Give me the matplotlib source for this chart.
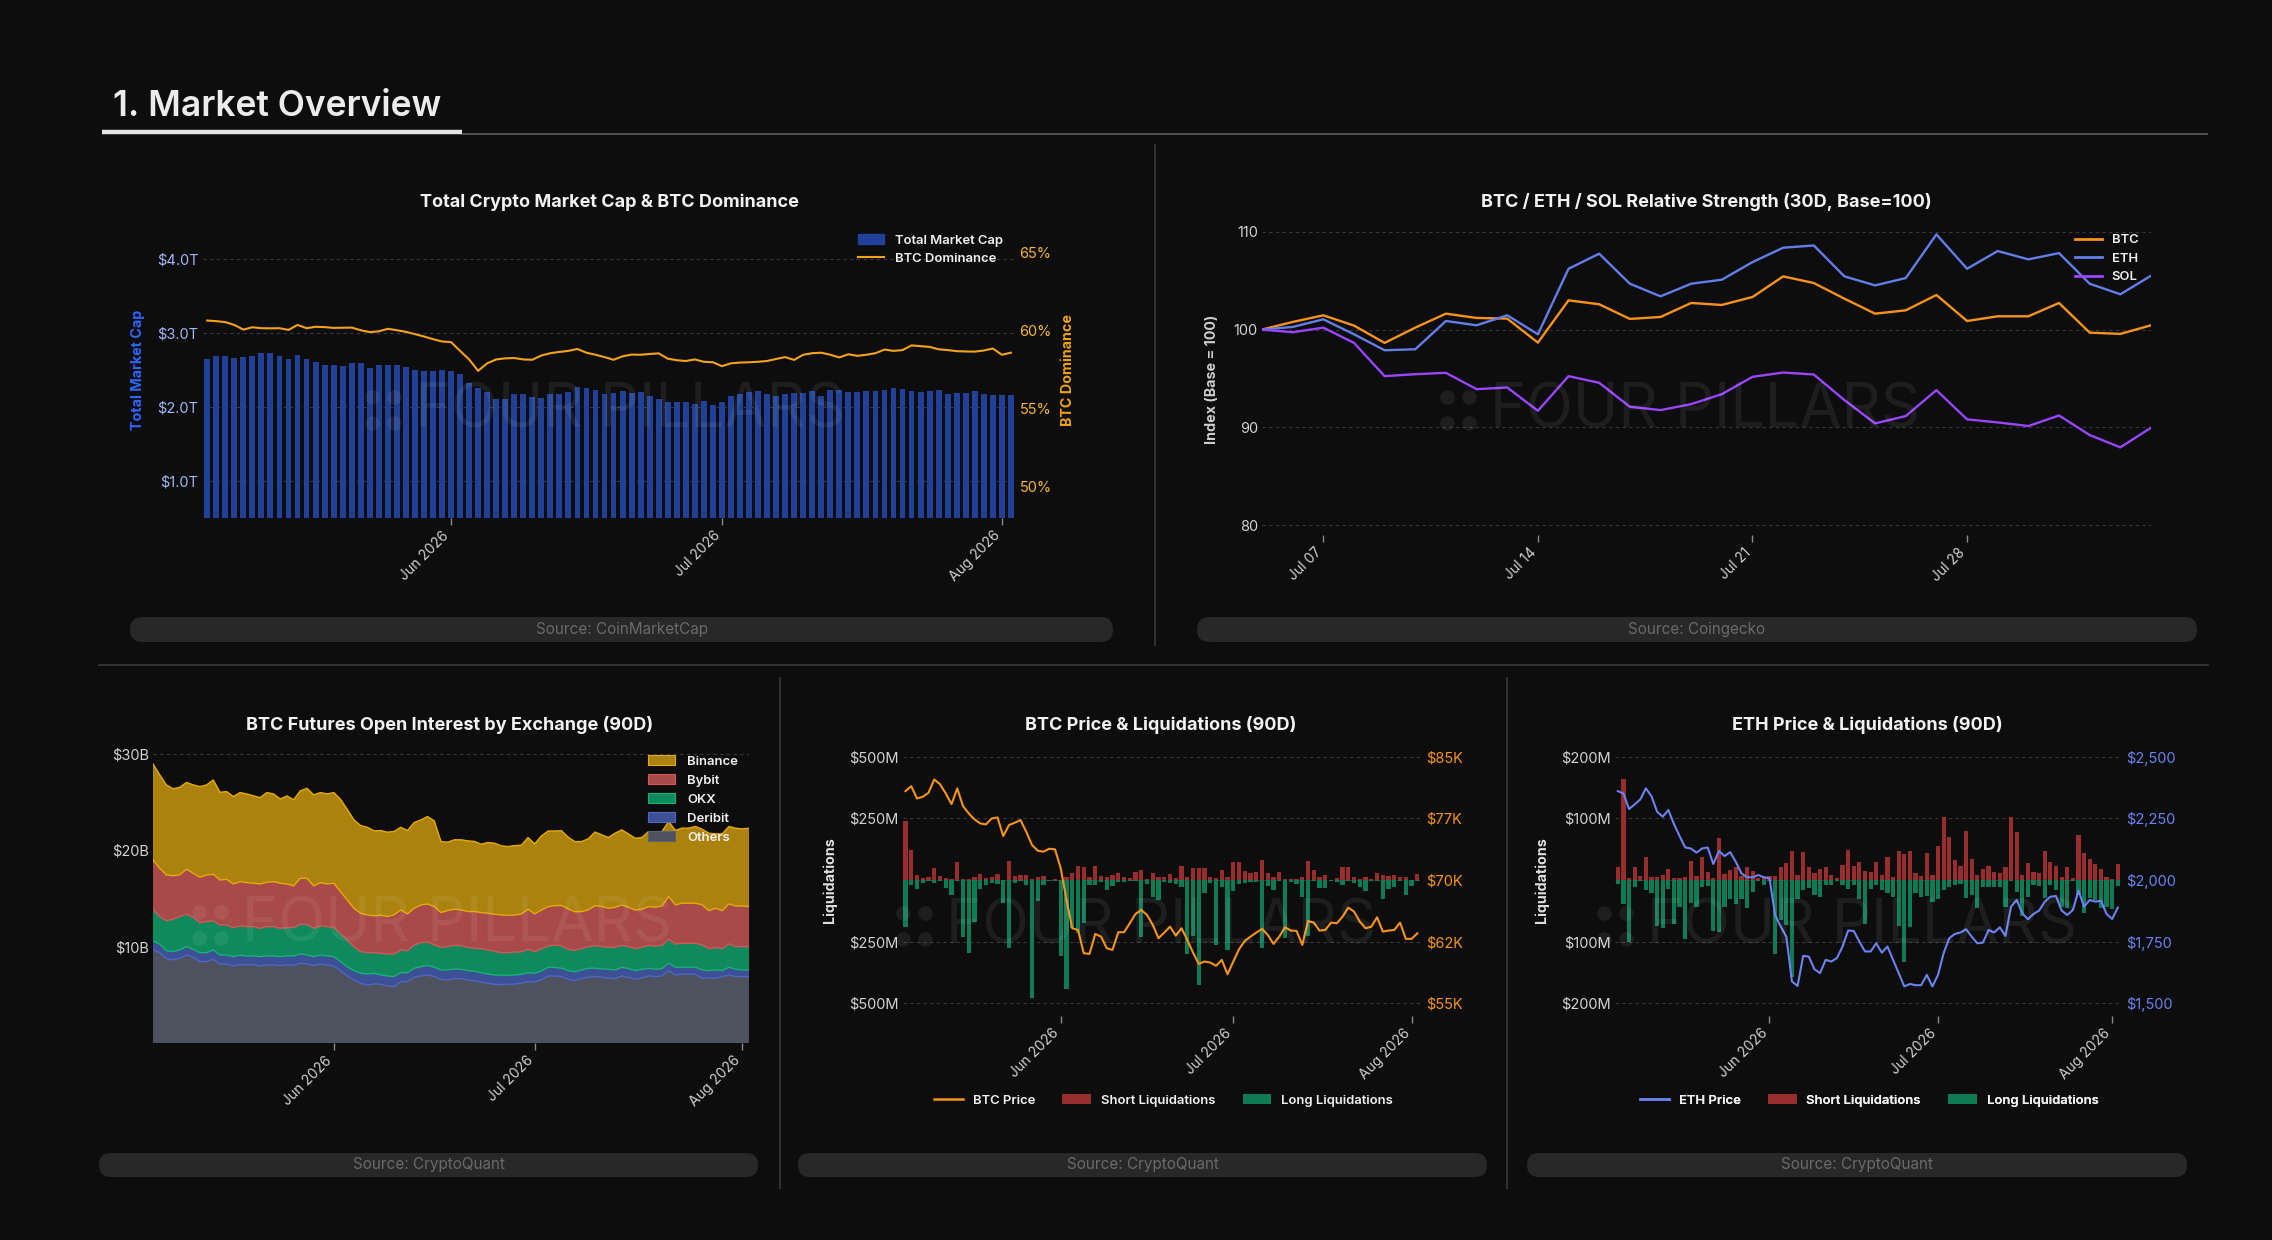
import numpy as np
import pandas as pd
import matplotlib
matplotlib.use("Agg")
import matplotlib.pyplot as plt
from matplotlib.patches import FancyBboxPatch, Patch
from matplotlib.lines import Line2D
from matplotlib.transforms import ScaledTranslation

plt.rcParams['font.family'] = ['Inter', 'DejaVu Sans']

W, H = 2272, 1240
BG = '#0d0d0d'

# ---------------- data ----------------
days_90 = pd.date_range('2026-05-05', periods=90, freq='D')
days_30 = pd.date_range('2026-07-05', periods=30, freq='D')

# total crypto market cap ($T) and BTC dominance (%)
mcap = [2.64, 2.68, 2.69, 2.66, 2.67, 2.68, 2.72, 2.72, 2.68, 2.65,
        2.70, 2.64, 2.60, 2.57, 2.57, 2.55, 2.59, 2.59, 2.52, 2.56,
        2.57, 2.57, 2.54, 2.50, 2.48, 2.48, 2.50, 2.49, 2.44, 2.32,
        2.25, 2.20, 2.11, 2.10, 2.18, 2.17, 2.13, 2.12, 2.18, 2.18,
        2.20, 2.27, 2.26, 2.23, 2.18, 2.19, 2.21, 2.19, 2.20, 2.15,
        2.10, 2.07, 2.07, 2.07, 2.04, 2.08, 2.03, 2.07, 2.14, 2.18,
        2.20, 2.21, 2.18, 2.14, 2.17, 2.19, 2.19, 2.21, 2.14, 2.23,
        2.23, 2.20, 2.20, 2.21, 2.22, 2.23, 2.26, 2.24, 2.21, 2.20,
        2.21, 2.23, 2.18, 2.19, 2.19, 2.21, 2.18, 2.16, 2.16, 2.16]
btc_dom = [60.64, 60.60, 60.54, 60.36, 60.06, 60.21, 60.15, 60.14, 60.15, 60.04,
           60.36, 60.15, 60.24, 60.22, 60.17, 60.18, 60.19, 60.02, 59.90, 59.95,
           60.11, 60.02, 59.92, 59.77, 59.62, 59.45, 59.30, 59.26, 58.70, 58.15,
           57.42, 57.90, 58.15, 58.22, 58.24, 58.15, 58.13, 58.40, 58.55, 58.63,
           58.70, 58.82, 58.58, 58.45, 58.30, 58.13, 58.35, 58.46, 58.45, 58.50,
           58.54, 58.20, 58.10, 58.05, 58.15, 58.00, 57.97, 57.72, 57.90, 57.95,
           57.97, 58.00, 58.05, 58.18, 58.30, 58.12, 58.45, 58.55, 58.58, 58.45,
           58.28, 58.48, 58.38, 58.45, 58.55, 58.78, 58.70, 58.75, 59.05, 59.00,
           58.95, 58.80, 58.75, 58.68, 58.66, 58.65, 58.72, 58.85, 58.45, 58.58]

# relative strength index (base 100)
rs_btc = [100.0, 100.78, 101.46, 100.41, 98.64, 100.2, 101.63, 101.19, 101.12, 98.67,
          102.99, 102.59, 101.09, 101.29, 102.72, 102.52, 103.33, 105.44, 104.76, 103.16,
          101.63, 101.97, 103.54, 100.88, 101.36, 101.36, 102.72, 99.69, 99.56, 100.44]
rs_eth = [100.0, 100.27, 101.05, 99.52, 97.89, 97.99, 100.88, 100.44, 101.46, 99.52,
          106.22, 107.76, 104.69, 103.4, 104.69, 105.1, 106.9, 108.37, 108.6, 105.44,
          104.52, 105.27, 109.73, 106.22, 108.03, 107.18, 107.82, 104.69, 103.61, 105.51]
rs_sol = [100.0, 99.73, 100.2, 98.64, 95.24, 95.44, 95.58, 93.91, 94.08, 91.7,
          95.24, 94.56, 92.11, 91.77, 92.38, 93.4, 95.17, 95.61, 95.41, 92.79,
          90.41, 91.16, 93.81, 90.82, 90.51, 90.14, 91.22, 89.22, 87.96, 89.97]

# BTC futures open interest by exchange ($B)
oi_others = [9.65, 9.38, 8.75, 8.62, 8.79, 9.13, 8.89, 8.44, 8.44, 8.68,
             8.2, 8.2, 7.99, 8.13, 8.1, 8.13, 7.99, 8.1, 8.1, 8.03,
             8.1, 8.06, 8.27, 8.2, 8.03, 8.2, 8.1, 7.99, 7.51, 6.95,
             6.54, 6.19, 6.02, 6.12, 6.09, 5.92, 5.85, 6.37, 6.37, 6.82,
             6.95, 7.06, 6.89, 6.61, 6.54, 6.68, 6.68, 6.54, 6.47, 6.33,
             6.19, 6.09, 6.06, 6.09, 6.12, 6.19, 6.37, 6.33, 6.54, 6.95,
             6.95, 6.89, 6.61, 6.47, 6.68, 6.82, 6.89, 6.82, 6.75, 6.68,
             6.95, 6.82, 6.61, 6.75, 6.95, 6.89, 6.95, 7.51, 7.06, 7.13,
             7.13, 7.13, 6.71, 6.78, 6.71, 6.89, 7.06, 6.89, 6.89, 6.89]
oi_deribit = [0.93, 0.87, 0.83, 0.87, 0.87, 0.87, 0.83, 0.93, 0.93, 0.97,
              0.93, 0.93, 0.97, 0.97, 0.93, 0.9, 0.97, 0.93, 0.93, 0.93,
              0.93, 0.97, 0.97, 0.93, 0.93, 0.93, 0.93, 0.97, 0.93, 0.97,
              0.97, 1.04, 1.14, 1.11, 0.97, 1.04, 1.04, 0.93, 0.93, 0.93,
              0.97, 1.0, 0.97, 0.97, 1.04, 1.0, 0.97, 0.97, 0.97, 0.97,
              0.97, 0.97, 0.97, 0.93, 0.93, 0.93, 0.93, 0.9, 0.93, 0.9,
              0.9, 0.87, 0.9, 0.93, 0.9, 0.93, 0.87, 0.87, 0.9, 0.9,
              0.9, 0.9, 0.9, 0.9, 0.8, 0.76, 0.76, 0.76, 0.8, 0.73,
              0.73, 0.73, 0.87, 0.73, 0.87, 0.62, 0.8, 0.76, 0.69, 0.69]
oi_okx = [3.29, 2.87, 3.11, 3.36, 3.46, 3.36, 3.32, 3.11, 3.22, 3.04,
          3.11, 3.11, 3.01, 3.04, 3.04, 3.04, 2.94, 3.04, 3.04, 2.94,
          2.94, 2.94, 3.08, 3.18, 2.94, 3.01, 3.04, 3.04, 2.94, 2.77,
          2.49, 2.25, 2.21, 2.15, 2.25, 2.28, 2.35, 2.35, 2.28, 2.42,
          2.49, 2.42, 2.32, 2.35, 2.42, 2.46, 2.46, 2.42, 2.39, 2.49,
          2.49, 2.46, 2.35, 2.35, 2.39, 2.35, 2.42, 2.25, 2.32, 2.21,
          2.32, 2.32, 2.21, 2.21, 2.21, 2.25, 2.32, 2.32, 2.28, 2.35,
          2.28, 2.28, 2.28, 2.28, 2.39, 2.42, 2.42, 2.49, 2.42, 2.49,
          2.49, 2.49, 2.6, 2.28, 2.32, 2.28, 2.42, 2.35, 2.42, 2.42]
oi_bybit = [5.12, 5.02, 4.74, 4.5, 4.33, 4.67, 4.57, 4.71, 4.84, 4.81,
            4.67, 4.74, 4.53, 4.6, 4.57, 4.5, 4.6, 4.6, 4.67, 4.67,
            4.53, 4.33, 4.77, 4.77, 4.39, 4.5, 4.43, 4.57, 4.33, 4.15,
            3.98, 3.98, 3.91, 3.81, 3.94, 3.88, 4.05, 4.15, 3.81, 3.81,
            3.91, 3.94, 3.98, 3.6, 3.74, 3.74, 3.7, 3.7, 3.81, 3.74,
            3.81, 3.84, 3.91, 3.88, 3.84, 3.91, 4.15, 3.91, 4.01, 4.08,
            4.08, 4.19, 4.19, 4.01, 3.84, 3.81, 4.15, 4.15, 4.05, 4.15,
            4.19, 4.08, 4.01, 3.94, 4.01, 4.01, 4.08, 4.43, 4.05, 4.15,
            4.15, 4.15, 4.15, 3.94, 4.08, 3.94, 4.15, 4.22, 4.22, 4.15]
oi_binance = [9.96, 9.69, 9.34, 9.03, 9.07, 9.0, 9.17, 9.41, 9.34, 9.79,
              9.1, 9.1, 9.07, 9.24, 9.2, 9.07, 8.96, 9.31, 9.1, 8.75,
              9.13, 8.93, 9.07, 9.34, 9.45, 9.34, 9.34, 9.41, 9.58, 9.41,
              9.17, 9.1, 9.1, 8.82, 8.79, 8.75, 8.65, 8.58, 8.65, 8.89,
              8.82, 9.07, 8.89, 7.37, 7.09, 7.2, 7.27, 7.34, 7.27, 7.09,
              7.34, 7.37, 7.16, 7.13, 7.2, 7.13, 7.44, 7.27, 7.68, 7.85,
              7.75, 7.75, 7.44, 7.27, 7.27, 7.37, 7.65, 7.44, 7.34, 7.68,
              7.79, 7.61, 7.44, 7.44, 7.79, 7.61, 7.72, 7.79, 7.72, 7.79,
              7.79, 7.96, 7.85, 8.03, 7.72, 7.96, 8.03, 8.06, 7.99, 8.13]

# BTC liquidations ($M) and price ($K)
btc_short = [239, 122, 20, 7, 11, 50, 15, 7, 3, 73,
             3, 3, 11, 24, 7, 14, 23, 0, 77, 16,
             20, 20, 3, 11, 16, 0, 3, 0, 14, 27,
             57, 51, 11, 57, 16, 11, 20, 30, 11, 7,
             34, 41, 3, 30, 14, 11, 23, 7, 57, 11,
             47, 47, 47, 11, 7, 41, 11, 74, 74, 36,
             30, 34, 81, 30, 11, 34, 3, 3, 3, 11,
             77, 41, 11, 20, 0, 7, 51, 51, 11, 3,
             11, 3, 27, 20, 16, 20, 14, 11, 0, 23]
btc_long = [189, 20, 38, 11, 3, 11, 3, 34, 61, 3,
            230, 297, 169, 38, 20, 11, 18, 92, 277, 11,
            4, 20, 480, 84, 20, 3, 3, 308, 443, 196,
            216, 173, 20, 20, 7, 41, 24, 7, 7, 3,
            3, 232, 16, 68, 81, 7, 11, 16, 27, 300,
            227, 426, 51, 11, 263, 27, 286, 43, 16, 11,
            7, 7, 277, 24, 41, 3, 236, 7, 16, 68,
            227, 3, 34, 34, 3, 7, 20, 3, 14, 30,
            43, 3, 3, 78, 38, 27, 3, 61, 24, 3]
btc_price = [80.82, 81.43, 79.93, 80.13, 80.62, 82.24, 81.67, 80.54, 79.24, 81.15,
             79.00, 78.11, 77.38, 76.89, 76.77, 77.50, 77.62, 75.35, 76.69, 76.97,
             77.30, 75.88, 74.26, 73.57, 73.45, 73.81, 73.73, 71.42, 67.57, 64.12,
             63.92, 61.08, 61.00, 63.43, 63.11, 61.69, 61.49, 63.64, 63.64, 64.73,
             65.87, 66.35, 65.74, 64.53, 62.91, 63.60, 64.32, 63.23, 64.12, 62.70,
             61.16, 59.79, 60.07, 59.95, 59.55, 60.27, 58.53, 60.07, 61.57, 62.58,
             63.11, 63.60, 64.04, 63.31, 62.22, 63.11, 64.24, 63.84, 63.80, 62.10,
             65.01, 64.81, 63.84, 63.92, 64.81, 64.73, 65.54, 66.64, 66.15, 64.93,
             64.12, 64.32, 65.46, 63.72, 63.84, 63.92, 64.81, 62.83, 62.83, 63.51]

# ETH liquidations ($M) and price ($)
eth_short = [21.6, 163.8, 2.7, 20.5, 7.0, 37.8, 5.4, 5.4, 8.1, 18.4,
             2.7, 2.7, 5.4, 31.4, 7.0, 37.8, 13.0, 2.7, 67.6, 9.2,
             16.2, 20.5, 7.0, 20.5, 15.1, 2.7, 2.7, 7.0, 7.0, 20.5,
             27.0, 47.0, 8.1, 44.9, 20.5, 11.9, 17.3, 20.5, 8.1, 3.8,
             24.3, 48.6, 22.7, 28.6, 15.1, 13.5, 28.6, 8.1, 36.8, 5.4,
             47.6, 42.2, 47.0, 11.9, 6.5, 43.2, 8.1, 55.1, 101.6, 69.2,
             32.4, 22.7, 80.0, 33.5, 8.1, 17.8, 22.7, 13.5, 11.9, 20.5,
             102.7, 78.4, 8.1, 28.1, 13.5, 10.8, 47.6, 29.7, 23.2, 5.4,
             20.5, 2.7, 73.0, 44.3, 34.0, 25.4, 17.3, 4.3, 1.6, 25.4]
eth_long = [6.5, 39.5, 100.0, 11.9, 1.0, 16.2, 21.6, 74.0, 78.4, 15.1,
            71.4, 43.2, 96.2, 37.8, 43.2, 11.9, 9.7, 82.2, 83.8, 43.2,
            31.4, 39.5, 31.4, 45.9, 18.9, 1.0, 8.1, 1.0, 120.5, 64.9,
            73.0, 158.0, 31.4, 16.2, 13.5, 24.3, 28.1, 8.1, 8.1, 1.0,
            8.1, 15.1, 8.1, 31.4, 71.9, 15.1, 8.1, 16.2, 20.5, 27.0,
            74.0, 133.5, 75.7, 20.5, 28.1, 25.9, 35.1, 31.4, 16.2, 10.8,
            8.1, 6.5, 29.7, 24.3, 45.9, 10.8, 10.8, 10.8, 11.9, 44.3,
            1.0, 18.9, 58.4, 27.0, 8.1, 9.7, 29.7, 8.1, 16.2, 43.2,
            45.9, 1.0, 24.3, 53.0, 29.7, 32.4, 45.9, 44.3, 47.6, 9.7]
eth_price = [2361, 2351, 2288, 2307, 2327, 2372, 2340, 2277, 2257, 2284,
             2227, 2178, 2132, 2128, 2111, 2128, 2132, 2065, 2118, 2097,
             2113, 2074, 2027, 2011, 2011, 2020, 2011, 2007, 1858, 1811,
             1770, 1588, 1570, 1692, 1689, 1638, 1622, 1676, 1669, 1683,
             1730, 1795, 1793, 1750, 1710, 1710, 1743, 1705, 1730, 1676,
             1622, 1568, 1578, 1573, 1573, 1615, 1568, 1615, 1703, 1764,
             1781, 1787, 1800, 1770, 1743, 1746, 1797, 1787, 1808, 1773,
             1892, 1919, 1865, 1841, 1862, 1876, 1912, 1932, 1935, 1876,
             1858, 1878, 1957, 1892, 1919, 1912, 1916, 1862, 1842, 1888]

month_ticks = pd.to_datetime(['2026-06-01', '2026-07-01', '2026-08-01'])
month_labels = ['Jun 2026', 'Jul 2026', 'Aug 2026']
week_ticks = pd.to_datetime(['2026-07-07', '2026-07-14', '2026-07-21', '2026-07-28'])
week_labels = ['Jul 07', 'Jul 14', 'Jul 21', 'Jul 28']

# ---------------- helpers ----------------
fig = plt.figure(figsize=(W / 100, H / 100), dpi=100, facecolor=BG)
half = pd.Timedelta(hours=12)
shift = ScaledTranslation(-4 / 100, 0, fig.dpi_scale_trans)


def box(x0, x1, ytop, ybot):
    return [x0 / W, 1 - ybot / H, (x1 - x0) / W, (ybot - ytop) / H]


def style(ax, tick_color='#d2d2d2'):
    ax.set_facecolor('none')
    for s in ax.spines.values():
        s.set_visible(False)
    ax.tick_params(axis='y', length=0, pad=3, labelsize=10.5, labelcolor=tick_color)
    ax.tick_params(axis='x', length=5, width=1, color='#8a8a8a', pad=6,
                   labelsize=10, labelcolor='#d0d0d0')
    ax.grid(axis='y', color='#383838', lw=0.8, ls=(0, (3, 3)))
    ax.set_axisbelow(True)


def xlabels(ax, ticks, labels):
    ax.set_xticks(ticks)
    ax.set_xticklabels(labels, rotation=45, ha='right', va='center', rotation_mode='anchor')
    for lab in ax.get_xticklabels():
        lab.set_transform(lab.get_transform() + shift)


# ---------------- panel 1: market cap & dominance ----------------
ax1 = fig.add_axes(box(202.7, 1015.4, 229, 518))
style(ax1, '#a3b5f5')
ax1.bar(days_90, mcap, width=0.65, color='#20409a', zorder=2)
ax1.set_ylim(0.5, 4.4)
ax1.set_yticks([1, 2, 3, 4])
ax1.set_yticklabels(['$1.0T', '$2.0T', '$3.0T', '$4.0T'])
ax1.set_xlim(days_90[0] - half, days_90[-1] + half)
xlabels(ax1, month_ticks, month_labels)
ax1b = ax1.twinx()
ax1b.set_facecolor('none')
for s in ax1b.spines.values():
    s.set_visible(False)
ax1b.plot(days_90, btc_dom, color='#f5a21b', lw=1.5)
ax1b.set_ylim(48, 66.5)
ax1b.set_yticks([50, 55, 60, 65])
ax1b.set_yticklabels(['50%', '55%', '60%', '65%'])
ax1b.tick_params(axis='y', length=0, pad=3, labelsize=10.5, labelcolor='#f7b731')

# ---------------- panel 2: relative strength ----------------
ax2 = fig.add_axes(box(1262, 2151, 222, 535))
style(ax2)
ax2.plot(days_30, rs_btc, color='#f7931a', lw=1.7)
ax2.plot(days_30, rs_eth, color='#627eea', lw=1.7)
ax2.plot(days_30, rs_sol, color='#9945ff', lw=1.7)
ax2.set_ylim(79, 111)
ax2.set_yticks([80, 90, 100, 110])
ax2.set_xlim(days_30[0], days_30[-1])
xlabels(ax2, week_ticks, week_labels)

# ---------------- panel 3: open interest ----------------
ex_fill = ['#4e525e', '#3d5096', '#108a5c', '#a84a4a', '#ab820e']
ex_line = ['#5d6270', '#4f67c4', '#19b07a', '#cf5a5a', '#e6aa0c']
ax3 = fig.add_axes(box(153, 749, 749, 1043))
style(ax3)
layers = [oi_others, oi_deribit, oi_okx, oi_bybit, oi_binance]
ax3.stackplot(days_90, *layers, colors=ex_fill, lw=0, zorder=2)
tops = np.cumsum(np.array(layers), axis=0)
for k in range(5):
    c = ex_line[min(k + 1, 4)]
    ax3.plot(days_90, tops[k], color=c, lw=1.0, zorder=3)
ax3.set_ylim(0, 30.5)
ax3.set_yticks([10, 20, 30])
ax3.set_yticklabels(['$10B', '$20B', '$30B'])
ax3.set_xlim(days_90[0], days_90[-1])
xlabels(ax3, month_ticks, month_labels)


# ---------------- panels 4/5: price & liquidations ----------------
def liq_panel(rect, short, long_, price, lim, ylab, pcol, plim, pticks, plabels):
    ax = fig.add_axes(rect)
    style(ax)
    ax.bar(days_90, short, width=0.75, color='#982d2d', zorder=2)
    ax.bar(days_90, -np.array(long_), width=0.75, color='#0f7b55', zorder=2)
    ax.set_ylim(-lim, lim)
    ax.set_yticks([-ylab * 2, -ylab, 0, ylab, ylab * 2])
    ax.set_yticklabels([f'${ylab * 2}M', f'${ylab}M', '', f'${ylab}M', f'${ylab * 2}M'])
    ax.set_xlim(days_90[0] - half, days_90[-1] + half)
    xlabels(ax, month_ticks, month_labels)
    axb = ax.twinx()
    axb.set_facecolor('none')
    for s in axb.spines.values():
        s.set_visible(False)
    axb.plot(days_90, price, color=pcol, lw=1.5)
    axb.set_ylim(*plim)
    axb.set_yticks(pticks)
    axb.set_yticklabels(plabels)
    axb.tick_params(axis='y', length=0, pad=4, labelsize=10.5, labelcolor=pcol)
    return ax


liq_panel(box(902.6, 1420.2, 744.5, 1015.5), btc_short, btc_long, btc_price, 550, 250,
          '#f7931a', (53.5, 86.5), [55, 62.5, 70, 77.5, 85],
          ['$55K', '$62K', '$70K', '$77K', '$85K'])
liq_panel(box(1615, 2120.6, 744.5, 1015.5), eth_short, eth_long, eth_price, 220, 100,
          '#6b82f0', (1450, 2550), [1500, 1750, 2000, 2250, 2500],
          ['$1,500', '$1,750', '$2,000', '$2,250', '$2,500'])

# ---------------- overlay: header, dividers, titles, pills, legends ----------------
ov = fig.add_axes([0, 0, 1, 1], zorder=20)
ov.set_xlim(0, W)
ov.set_ylim(H, 0)
ov.axis('off')
ov.patch.set_alpha(0)

ov.text(113, 116, '1. Market Overview', fontsize=25.5, fontweight='semibold', color='#ececec',
        va='baseline')
ov.plot([102, 462], [132, 132], color='#e4e4e4', lw=3.2, solid_capstyle='butt')
ov.plot([462, 2208], [133.5, 133.5], color='#555555', lw=1.3, solid_capstyle='butt')
div = '#3a3a3a'
ov.plot([1155, 1155], [145, 645], color=div, lw=1.2)
ov.plot([99, 2208], [665, 665], color=div, lw=1.2)
ov.plot([780, 780], [678, 1188], color=div, lw=1.2)
ov.plot([1507, 1507], [678, 1188], color=div, lw=1.2)

titles = [(609, 202, 'Total Crypto Market Cap & BTC Dominance'),
          (1706, 202, 'BTC / ETH / SOL Relative Strength (30D, Base=100)'),
          (450, 725, 'BTC Futures Open Interest by Exchange (90D)'),
          (1161, 725, 'BTC Price & Liquidations (90D)'),
          (1867, 725, 'ETH Price & Liquidations (90D)')]
for x, y, t in titles:
    ov.text(x, y, t, fontsize=13, fontweight='bold', color='#f2f2f2', ha='center', va='center')

pills = [(130, 1113, 617, 642, 'Source: CoinMarketCap'),
         (1197, 2197, 617, 642, 'Source: Coingecko'),
         (99, 758, 1153, 1177, 'Source: CryptoQuant'),
         (798, 1487, 1153, 1177, 'Source: CryptoQuant'),
         (1527, 2187, 1153, 1177, 'Source: CryptoQuant')]
for x0, x1, y0, y1, t in pills:
    r = (y1 - y0) / 2
    ov.add_patch(FancyBboxPatch((x0, y0), x1 - x0, y1 - y0,
                                boxstyle=f'round,pad=0,rounding_size={r}',
                                fc='#282828', ec='none'))
    ov.text((x0 + x1) / 2, (y0 + y1) / 2, t, fontsize=11, color='#6a6a6a', ha='center', va='center')

# axis labels
ylabs = [(138, 370, 'Total Market Cap', '#2f66ff'),
         (1068, 370, 'BTC Dominance', '#f0a30a'),
         (1212, 379, 'Index (Base = 100)', '#cfcfcf'),
         (830, 880, 'Liquidations', '#e0e0e0'),
         (1542, 880, 'Liquidations', '#e0e0e0')]
for x, y, t, c in ylabs:
    ov.text(x, y, t, rotation=90, fontsize=10.3, fontweight='bold', color=c, ha='center', va='center')


# watermarks
def watermark(cx, cy):
    ov.text(cx - 190, cy + 17, 'FOUR PILLARS', fontsize=44, color='white', alpha=0.07,
            ha='left', va='baseline')
    ov.scatter([cx - 233, cx - 233, cx - 211, cx - 211], [cy - 13, cy + 13, cy - 13, cy + 13],
               s=110, color='white', alpha=0.07, lw=0)


for cx, cy in [(605, 410), (1680, 410), (432, 925), (1136, 926), (1837, 926)]:
    watermark(cx, cy)

# legends
lp = dict(size=9.4, weight='semibold')
leg = ov.legend(handles=[Patch(fc='#20409a', ec='#20409a', label='Total Market Cap'),
                         Line2D([], [], color='#f5a21b', lw=1.5, label='BTC Dominance')],
                loc='upper left', bbox_to_anchor=(858, 234), bbox_transform=ov.transData,
                frameon=False, prop=lp, labelcolor='#f0f0f0', borderpad=0, borderaxespad=0,
                handlelength=2.0, handleheight=0.8, handletextpad=0.8, labelspacing=0.45)
ov.add_artist(leg)
leg = ov.legend(handles=[Line2D([], [], color=c, lw=2, label=n) for n, c in
                         [('BTC', '#f7931a'), ('ETH', '#627eea'), ('SOL', '#9945ff')]],
                loc='upper left', bbox_to_anchor=(2075, 234), bbox_transform=ov.transData,
                frameon=False, prop=lp, labelcolor='#f0f0f0', borderpad=0, borderaxespad=0,
                handlelength=2.1, handletextpad=0.7, labelspacing=0.5)
ov.add_artist(leg)
names = ['Binance', 'Bybit', 'OKX', 'Deribit', 'Others']
leg = ov.legend(handles=[Patch(fc=ex_fill[4 - i], ec=ex_line[4 - i], lw=0.8, label=n)
                         for i, n in enumerate(names)],
                loc='upper left', bbox_to_anchor=(648, 755), bbox_transform=ov.transData,
                frameon=False, prop=lp, labelcolor='#f0f0f0', borderpad=0, borderaxespad=0,
                handlelength=2.1, handleheight=0.8, handletextpad=0.9, labelspacing=0.5)
ov.add_artist(leg)
for x0, pname, pcol in [(934, 'BTC Price', '#f7931a'), (1640, 'ETH Price', '#6b82f0')]:
    leg = ov.legend(handles=[Line2D([], [], color=pcol, lw=1.8, label=pname),
                             Patch(fc='#982d2d', label='Short Liquidations'),
                             Patch(fc='#0f7b55', label='Long Liquidations')],
                    loc='upper left', bbox_to_anchor=(x0, 1094), bbox_transform=ov.transData,
                    ncol=3, frameon=False, prop=lp, labelcolor='#f0f0f0', borderpad=0,
                    borderaxespad=0, handlelength=2.2, handleheight=0.8, handletextpad=0.75,
                    columnspacing=2.1)
    ov.add_artist(leg)

fig.savefig('out.png', dpi=100, facecolor=BG)
